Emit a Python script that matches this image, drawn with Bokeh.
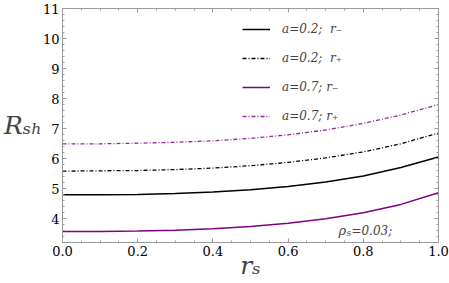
from bokeh.plotting import figure
from bokeh.models import Label, Legend, LegendItem, FixedTicker, Range1d, LinearAxis
from bokeh.embed import file_html
from bokeh.resources import INLINE

# ---- data ----
rs = [0.0, 0.1, 0.2, 0.3, 0.4, 0.5, 0.6, 0.7, 0.8, 0.9, 1.0]
a02_minus = [4.79, 4.79, 4.80, 4.83, 4.88, 4.96, 5.07, 5.22, 5.42, 5.70, 6.05]
a02_plus = [5.58, 5.59, 5.60, 5.63, 5.68, 5.76, 5.87, 6.02, 6.22, 6.49, 6.85]
a07_minus = [3.57, 3.57, 3.58, 3.61, 3.66, 3.73, 3.84, 3.99, 4.19, 4.47, 4.86]
a07_plus = [6.49, 6.49, 6.51, 6.54, 6.59, 6.67, 6.79, 6.95, 7.17, 7.45, 7.80]
labels = ["a=0.2;  r\u208b", "a=0.2;  r\u208a", "a=0.7; r\u208b", "a=0.7; r\u208a"]
x_ticks = [0.0, 0.2, 0.4, 0.6, 0.8, 1.0]
y_ticks = [4, 5, 6, 7, 8, 9, 10, 11]

W, H = 449, 283
BL, BR, BT, BB = 58, 11, 8, 41
X0, X1, Y0, Y1 = 0.0, 1.0, 3.2, 11.0
FW = W - BL - BR
FH = H - BT - BB

def dx(px):  # canvas px -> data x
    return X0 + (px - BL) / FW * (X1 - X0)

def dy(py):  # canvas px (from top) -> data y
    return Y0 + (H - BB - py) / FH * (Y1 - Y0)

SERIF = "DejaVu Serif"
FRAME = "#9a9a9a"
PURPLE = "#800080"
PURPLE2 = "#932b9c"

p = figure(width=W, height=H, x_range=Range1d(X0, X1), y_range=Range1d(Y0, Y1),
           output_backend="svg", toolbar_location=None,
           min_border_left=BL, min_border_right=BR, min_border_top=BT, min_border_bottom=BB)
p.grid.visible = False
p.outline_line_color = FRAME
p.background_fill_color = "white"
p.border_fill_color = "white"

def style_axis(ax, show_labels):
    ax.axis_line_color = FRAME
    ax.major_tick_line_color = FRAME
    ax.minor_tick_line_color = FRAME
    ax.major_tick_in = 4
    ax.major_tick_out = 0
    ax.minor_tick_in = 2
    ax.minor_tick_out = 0
    ax.major_label_text_font = SERIF
    ax.major_label_text_font_size = "13px" if show_labels else "0px"
    ax.major_label_text_color = "black"
    ax.major_label_standoff = 3

x_minor = [i * 0.05 for i in range(21)]
y_minor = [3.2 + i * 0.2 for i in range(40)]
p.xaxis.ticker = FixedTicker(ticks=x_ticks, minor_ticks=x_minor)
p.yaxis.ticker = FixedTicker(ticks=y_ticks, minor_ticks=y_minor)
p.xaxis.major_label_overrides = {v: f"{v:.1f}" for v in x_ticks}
style_axis(p.xaxis[0], True)
style_axis(p.yaxis[0], True)

# axis titles (italic serif, with subscripts)
p.yaxis.axis_label = "R\u209b\u2095"
p.yaxis.axis_label_orientation = "horizontal"
p.yaxis.axis_label_text_font = SERIF
p.yaxis.axis_label_text_font_style = "italic"
p.yaxis.axis_label_text_font_size = "25px"
p.yaxis.axis_label_standoff = -2
p.xaxis.axis_label = "r\u209b"
p.xaxis.axis_label_text_font = SERIF
p.xaxis.axis_label_text_font_style = "italic"
p.xaxis.axis_label_text_font_size = "25px"
p.xaxis.axis_label_standoff = -8

top = LinearAxis(ticker=FixedTicker(ticks=x_ticks, minor_ticks=x_minor))
right = LinearAxis(ticker=FixedTicker(ticks=y_ticks, minor_ticks=y_minor))
style_axis(top, False)
style_axis(right, False)
p.add_layout(top, "above")
p.add_layout(right, "right")

r1 = p.line(rs, a02_minus, line_color="black", line_width=1.5)
r2 = p.line(rs, a02_plus, line_color="black", line_width=1.3, line_dash="4 2 1 2")
r3 = p.line(rs, a07_minus, line_color=PURPLE, line_width=1.5)
r4 = p.line(rs, a07_plus, line_color=PURPLE2, line_width=1.3, line_dash="4 2 1 2")

leg = Legend(items=[LegendItem(label=labels[0], renderers=[r1]),
                    LegendItem(label=labels[1], renderers=[r2]),
                    LegendItem(label=labels[2], renderers=[r3]),
                    LegendItem(label=labels[3], renderers=[r4])],
             location=(180, 118), glyph_width=28, glyph_height=16, label_height=16,
             spacing=13, padding=0, margin=0, border_line_alpha=0, background_fill_alpha=0,
             label_standoff=12, label_text_font=SERIF, label_text_font_style="italic",
             label_text_font_size="12px")
p.add_layout(leg, "center")

# annotation inside the frame
p.add_layout(Label(x=dx(337), y=dy(230), text="\u03c1", text_font=SERIF, text_font_style="italic",
                   text_font_size="13px", text_baseline="alphabetic"))
p.add_layout(Label(x=dx(345), y=dy(232), text="s", text_font=SERIF, text_font_style="italic",
                   text_font_size="9px", text_baseline="alphabetic"))
p.add_layout(Label(x=dx(350), y=dy(230), text="=0.03;", text_font=SERIF, text_font_style="italic",
                   text_font_size="12px", text_baseline="alphabetic"))

open("out.html", "w").write(file_html(p, INLINE))
